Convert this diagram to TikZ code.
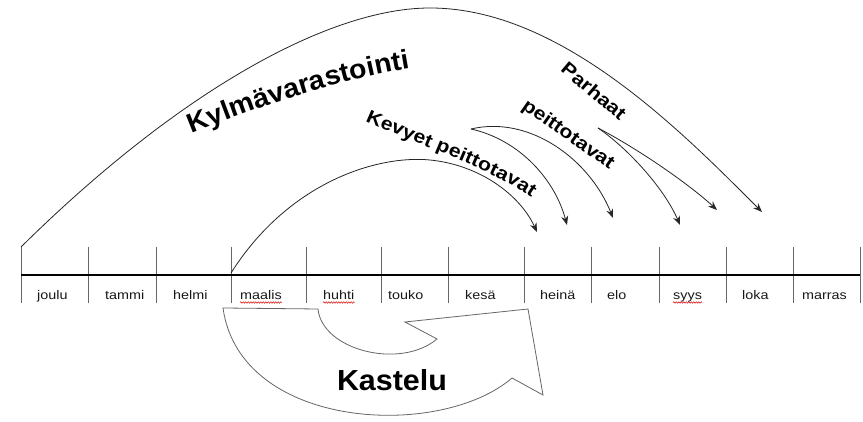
\documentclass[tikz,border=0pt]{standalone}
\usepackage{fontspec}
\setmainfont{Liberation Sans}
\newfontfamily\stretchfont[FakeStretch=1.15]{Liberation Sans}
\newfontfamily\bigfont[FakeStretch=1.05]{Liberation Sans}
\usetikzlibrary{arrows.meta,decorations.text,decorations.pathmorphing}
\begin{document}
\begin{tikzpicture}[x=1pt,y=1pt,
  tickline/.style={draw=black!60, line width=0.8pt},
  month/.style={anchor=base west, inner sep=0pt, font=\stretchfont\fontsize{12.5}{14}\selectfont, text=black!90},
  curve/.style={draw=black!85, line width=0.8pt},
  arr/.style={curve, -{Stealth[length=9pt,width=7pt]}},
  spell/.style={draw=red!85!black, line width=0.5pt, decorate, decoration={snake, amplitude=0.7pt, segment length=2.5pt}},
  midtext/.style={font=\stretchfont\bfseries\fontsize{18.5}{20}\selectfont, inner sep=0pt},
  kastelutext/.style={font=\bigfont\bfseries\fontsize{29}{31}\selectfont, inner sep=0pt},
  blockarrow/.style={draw=black!60, line width=0.8pt, fill=white},
]
\useasboundingbox (0,0) rectangle (863,422);
\fill[white] (0,0) rectangle (863,422);

% ticks
\foreach \x in {21,88,156,231,306,381,448,524,591,659,726,793,860}
  \draw[tickline] (\x,175) -- (\x,119);
% timeline
\coordinate (tl0) at (21,147);
\coordinate (tl1) at (860,147);
\draw[line width=2.8pt] (tl0) -- (tl1);

% months
\node[month] (m1)  at (37,122)  {joulu};
\node[month] (m2)  at (105,122) {tammi};
\node[month] (m3)  at (173,122) {helmi};
\node[month] (m4)  at (240,122) {maalis};
\node[month] (m5)  at (323,122) {huhti};
\node[month] (m6)  at (388,122) {touko};
\node[month] (m7)  at (465,122) {kesä};
\node[month] (m8)  at (540,122) {heinä};
\node[month] (m9)  at (607,122) {elo};
\node[month] (m10) at (673,122) {syys};
\node[month] (m11) at (742,122) {loka};
\node[month] (m12) at (802,122) {marras};
\draw[spell] ([yshift=-2.5pt]m4.base west) -- ([yshift=-2.5pt]m4.base east);
\draw[spell] ([yshift=-2.5pt]m5.base west) -- ([yshift=-2.5pt]m5.base east);
\draw[spell] ([yshift=-2.5pt]m10.base west) -- ([yshift=-2.5pt]m10.base east);

% Kylmävarastointi arc
\coordinate (ks) at (21,175);
\coordinate (kp) at (430,414);
\coordinate (ke) at (762,210);
\draw[arr] (ks) .. controls (180,332) and (330,414) .. (kp)
  .. controls (560,414) and (680,292) .. (ke);

% Kevyet peittotavat arc
\coordinate (vs) at (231,149);
\coordinate (vp) at (430,262);
\coordinate (ve) at (537,190);
\draw[arr] (vs) .. controls (290,242) and (380,267) .. (vp)
  .. controls (480,257) and (520,227) .. (ve);

% second group
\coordinate (g2) at (471,293);
\coordinate (g2a) at (567,197);
\coordinate (g2b) at (613,204);
\draw[arr] (g2) .. controls (520,282) and (555,242) .. (g2a);
\draw[arr] (g2) .. controls (530,307) and (590,262) .. (g2b);

% Parhaat group
\coordinate (g3) at (598,294);
\coordinate (g3a) at (680,197);
\coordinate (g3b) at (717,212);
\draw[arr] (g3) .. controls (630,272) and (665,232) .. (g3a);
\draw[arr] (g3) .. controls (640,272) and (690,237) .. (g3b);

% texts
\path[decorate, decoration={text along path, text align=center,
  text={|\bigfont\bfseries\fontsize{27}{29}\selectfont|Kylmävarastointi}}]
  (186,286) .. controls (260,316) and (340,343) .. (416,355);
\path[decorate, decoration={text along path, text align=center,
  text={|\stretchfont\bfseries\fontsize{18.5}{20}\selectfont|Kevyet peittotavat}}]
  (358,304) .. controls (420,276) and (492,254) .. (538,220);
\node[midtext, rotate=-40] (parhaat) at (594,331) {Parhaat};
\node[midtext, rotate=-35] (peitto2) at (568,287) {peittotavat};

% Kastelu block arrow
\draw[blockarrow] (223,114) -- (318,113) .. controls (322,72) and (400,52) .. (437,83)
  -- (405,100) -- (528,113) -- (543,27) -- (512,44)
  .. controls (440,-18) and (240,-8) .. (223,114) -- cycle;
\node[kastelutext] (kastelu) at (392,42) {Kastelu};
\end{tikzpicture}
\end{document}
